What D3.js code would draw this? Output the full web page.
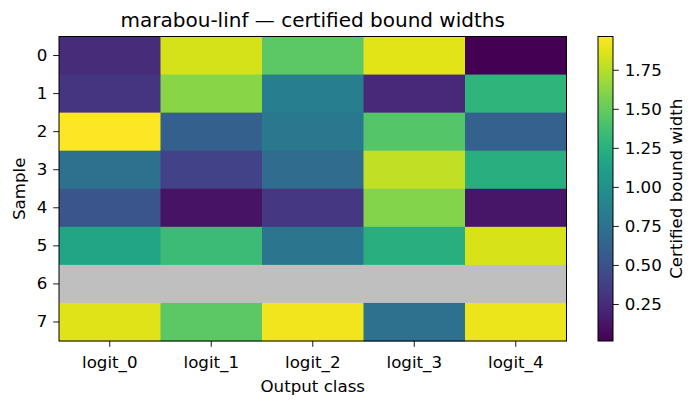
<!DOCTYPE html>
<html>
<head>
<meta charset="utf-8">
<script src="https://cdn.jsdelivr.net/npm/d3@7"></script>
<style>
  body { margin: 0; background: #fff; }
  svg { display: block; font-family: "DejaVu Sans", sans-serif; }
</style>
</head>
<body>
<svg id="chart" width="698" height="408"></svg>
<script>
// ── Data ────────────────────────────────────────────────────────────────────
const classes = ["logit_0", "logit_1", "logit_2", "logit_3", "logit_4"];
const samples = ["0", "1", "2", "3", "4", "5", "6", "7"];
// certified bound widths per sample (row) and output class (column); null = not certified
const widths = [
  [0.25, 1.836, 1.47, 1.875, 0.013],
  [0.315, 1.62, 0.85, 0.24, 1.28],
  [1.963, 0.60, 0.79, 1.44, 0.61],
  [0.735, 0.40, 0.695, 1.78, 1.24],
  [0.52, 0.11, 0.325, 1.60, 0.12],
  [1.16, 1.34, 0.77, 1.24, 1.846],
  [null, null, null, null, null],
  [1.865, 1.475, 1.924, 0.735, 1.905]
];
const cbarTicks = [0.25, 0.5, 0.75, 1.0, 1.25, 1.5, 1.75];

// ── Layout ──────────────────────────────────────────────────────────────────
const svg = d3.select("#chart");
const L = 59, R = 566.5, T = 36.5, B = 341;
const cbL = 598, cbW = 15;
const tickFont = "16.67px";
const tick = 5.83;

const x = d3.scaleBand().domain(classes).range([L, R]);
const y = d3.scaleBand().domain(samples).range([T, B]);

const cells = [];
widths.forEach((row, i) => row.forEach((v, j) => cells.push({ r: samples[i], c: classes[j], v })));
const vals = cells.filter(d => d.v != null).map(d => d.v);
const vmin = d3.min(vals), vmax = d3.max(vals);
const color = d3.scaleSequential(d3.interpolateViridis).domain([vmin, vmax]);

// ── Heatmap cells ───────────────────────────────────────────────────────────
svg.append("g").selectAll("rect")
  .data(cells)
  .join("rect")
  .attr("x", d => x(d.c)).attr("y", d => y(d.r))
  .attr("width", x.bandwidth() + 0.5).attr("height", y.bandwidth() + 0.5)
  .attr("fill", d => d.v == null ? "#bfbfbf" : color(d.v));

svg.append("rect")
  .attr("x", L).attr("y", T).attr("width", R - L).attr("height", B - T)
  .attr("fill", "none").attr("stroke", "#000").attr("stroke-width", 1);

// ── Axes ────────────────────────────────────────────────────────────────────
const xAxis = svg.append("g").attr("transform", `translate(0,${B})`)
  .call(d3.axisBottom(x).tickSize(tick).tickPadding(9));
const yAxis = svg.append("g").attr("transform", `translate(${L},0)`)
  .call(d3.axisLeft(y).tickSize(tick).tickPadding(tick));
[xAxis, yAxis].forEach(a => {
  a.select(".domain").remove();
  a.selectAll("line").attr("stroke", "#000").attr("stroke-width", 0.9);
  a.selectAll("text").attr("font-size", tickFont).attr("fill", "#000")
    .attr("font-family", "DejaVu Sans");
});

// ── Titles ──────────────────────────────────────────────────────────────────
svg.append("text")
  .attr("x", (L + R) / 2).attr("y", 27)
  .attr("text-anchor", "middle").attr("font-size", "20px")
  .text("marabou-linf — certified bound widths");
svg.append("text")
  .attr("x", (L + R) / 2).attr("y", 392)
  .attr("text-anchor", "middle").attr("font-size", tickFont)
  .text("Output class");
svg.append("text")
  .attr("transform", `translate(24.5,${(T + B) / 2}) rotate(-90)`)
  .attr("text-anchor", "middle").attr("font-size", tickFont)
  .text("Sample");

// ── Colorbar ────────────────────────────────────────────────────────────────
const cy = d3.scaleLinear().domain([vmin, vmax]).range([B, T]);
const defs = svg.append("defs");
const grad = defs.append("linearGradient").attr("id", "cbar")
  .attr("x1", 0).attr("y1", 1).attr("x2", 0).attr("y2", 0);
d3.range(0, 1.0001, 0.05).forEach(t => {
  grad.append("stop").attr("offset", t).attr("stop-color", d3.interpolateViridis(t));
});
svg.append("rect")
  .attr("x", cbL).attr("y", T).attr("width", cbW).attr("height", B - T)
  .attr("fill", "url(#cbar)").attr("stroke", "#000").attr("stroke-width", 1);

const cAxis = svg.append("g").attr("transform", `translate(${cbL + cbW},0)`)
  .call(d3.axisRight(cy).tickValues(cbarTicks).tickFormat(d3.format(".2f"))
    .tickSize(tick).tickPadding(tick));
cAxis.select(".domain").remove();
cAxis.selectAll("line").attr("stroke", "#000").attr("stroke-width", 0.9);
cAxis.selectAll("text").attr("font-size", tickFont).attr("fill", "#000")
  .attr("font-family", "DejaVu Sans");

svg.append("text")
  .attr("transform", `translate(681.5,${(T + B) / 2}) rotate(-90)`)
  .attr("text-anchor", "middle").attr("font-size", tickFont)
  .text("Certified bound width");
</script>
</body>
</html>
